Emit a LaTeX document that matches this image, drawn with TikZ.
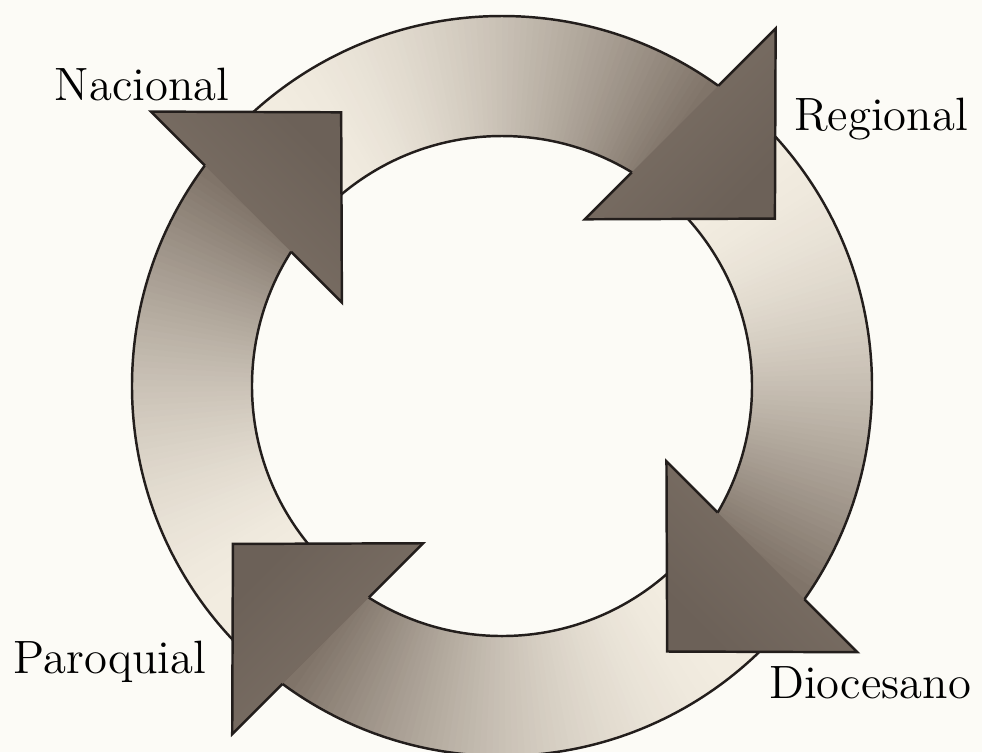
\documentclass[tikz,border=0pt]{standalone}
\usepackage{tikz}
\usetikzlibrary{calc}

\definecolor{paper}{RGB}{252,251,246}
\definecolor{ringlight}{RGB}{242,236,224}
\definecolor{ringdark}{RGB}{128,116,105}
\definecolor{tipdark}{RGB}{108,97,88}
\definecolor{edge}{RGB}{35,30,28}

\begin{document}
\begin{tikzpicture}[scale=1,
	rim/.style={draw=edge,line width=0.7pt},
	levelname/.style={font=\fontsize{13.3}{16}\selectfont,anchor=base,inner sep=0pt}]
	\fill[paper] (-5.02,-3.66) rectangle (4.80,3.86);
	\useasboundingbox (-5.02,-3.66) rectangle (4.80,3.86);
	
	% ring, light after each head and dark towards the next one
	\foreach \h in {56,145,235.5,327}{
		\foreach \i in {0,...,92}{
			\pgfmathsetmacro{\ang}{\h+86-\i}
			\pgfmathsetmacro{\angb}{\ang-1.6}
			\pgfmathsetmacro{\wt}{min(1,max(0,(\h+74-\ang)/74))}
			\pgfmathsetmacro{\pct}{100*\wt^1.6}
			\fill[ringdark!\pct!ringlight] (\ang:2.5) arc[start angle=\ang,end angle=\angb,radius=2.5] -- (\angb:3.7) arc[start angle=\angb,end angle=\ang,radius=3.7] -- cycle;
		}
	}
	\draw[rim] (0,0) circle (3.7);
	\draw[rim] (0,0) circle (2.5);
	
	% heads: base centre at (\h:\r), pointing along \ax
	\foreach \h/\r/\ax/\n in {55.8/3.17/-45/reg,145/3.12/45/nac,235.4/3.07/135/par,326.7/3.11/225/dio}{
		\pgfmathsetmacro{\shang}{\ax-90}
		\pgfmathsetmacro{\mdot}{\r*cos(\h-\ax-90)}
		\pgfmathsetmacro{\sout}{-\mdot+sqrt(\mdot*\mdot-\r*\r+13.69)}
		\pgfmathsetmacro{\sinr}{\mdot-sqrt(\mdot*\mdot-\r*\r+6.25)}
		\coordinate (\n-m) at (\h:\r);
		\coordinate (\n-out) at ($(\n-m)+(\ax+90:\sout)$);
		\coordinate (\n-in) at ($(\n-m)+(\ax-90:\sinr)$);
		\coordinate (\n-bo) at ($(\n-m)+(\ax+90:1.35)$);
		\coordinate (\n-bi) at ($(\n-m)+(\ax-90:1.35)$);
		\coordinate (\n-tip) at ($(\n-m)+(\ax:1.34)$);
		\shade[top color=tipdark,bottom color=ringdark,shading angle=\shang] (\n-bo) -- (\n-tip) -- (\n-bi) -- cycle;
		\draw[rim,line join=miter] (\n-out) -- (\n-bo) -- (\n-tip) -- (\n-bi) -- (\n-in);
	}
	
	\node[levelname] (nacional) at (-3.60,2.86) {Nacional};
	\node[levelname] (regional) at (3.79,2.56) {Regional};
	\node[levelname] (paroquial) at (-3.92,-2.87) {Paroquial};
	\node[levelname] (diocesano) at (3.68,-3.12) {Diocesano};
\end{tikzpicture}
\end{document}
